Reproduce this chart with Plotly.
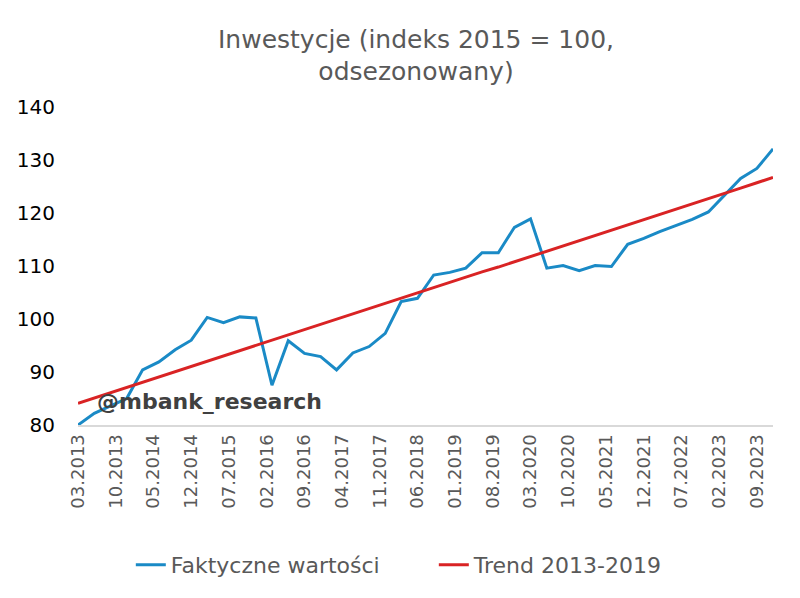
import plotly.graph_objects as go
import pandas as pd

# quarterly dates 03.2013 .. 12.2023
dates = [d.strftime("%Y-%m-%d") for d in pd.date_range("2013-03-01", "2023-12-01", freq="3MS")]

actual = [80.0, 82.2, 83.6, 85.0, 90.4, 91.9, 94.2, 96.0, 100.3, 99.3, 100.4, 100.2,
          87.5, 95.9, 93.5, 92.9, 90.4, 93.6, 94.8, 97.3, 103.3, 103.9, 108.3, 108.8,
          109.6, 112.5, 112.5, 117.3, 118.9, 109.6, 110.1, 109.1, 110.1, 109.9, 114.1, 115.2,
          116.5, 117.7, 118.8, 120.2, 123.4, 126.5, 128.4, 132.1]

trend = [84.1, 85.1, 86.1, 87.1, 88.1, 89.1, 90.0, 91.0, 92.0, 93.0, 94.0, 95.0,
         96.0, 97.0, 98.0, 98.9, 99.9, 100.9, 101.9, 102.9, 103.9, 104.9, 105.9, 106.9,
         107.9, 108.9, 109.8, 110.8, 111.8, 112.8, 113.8, 114.8, 115.8, 116.8, 117.8, 118.8,
         119.7, 120.7, 121.7, 122.7, 123.7, 124.7, 125.7, 126.7]

y_ticks = [80, 90, 100, 110, 120, 130, 140]

FONT = "Verdana, DejaVu Sans, sans-serif"

fig = go.Figure()
fig.add_trace(go.Scatter(x=dates, y=actual, mode="lines", name="Faktyczne wartości",
                         line=dict(color="#1a8ac6", width=3)))
fig.add_trace(go.Scatter(x=dates, y=trend, mode="lines", name="Trend 2013-2019",
                         line=dict(color="#d92324", width=3)))

fig.add_annotation(text="<b>@mbank_research</b>", xref="paper", yref="paper",
                   x=0.024, y=0.075, xanchor="left", yanchor="middle", showarrow=False,
                   font=dict(family=FONT, size=22, color="#404040"))

fig.update_layout(
    width=800, height=598, autosize=False,
    margin=dict(l=78, r=27, t=107, b=173, autoexpand=False),
    paper_bgcolor="white", plot_bgcolor="white",
    title=dict(text="Inwestycje (indeks 2015 = 100,<br>odsezonowany)",
               x=0.52, xanchor="center", y=0.92, yanchor="middle",
               font=dict(family=FONT, size=25, color="#595959")),
    showlegend=True,
    legend=dict(orientation="h", x=0.076, xanchor="left",
                y=-0.44, yanchor="middle",
                entrywidth=258, entrywidthmode="pixels",
                font=dict(family=FONT, size=22, color="#595959"),
                tracegroupgap=0),
    xaxis=dict(type="date", range=[dates[0], dates[-1]],
               tick0="2013-03-01", dtick="M7", tickformat="%m.%Y",
               tickangle=-90, showgrid=False, zeroline=False,
               showline=True, linecolor="#d9d9d9", linewidth=2,
               ticks="",
               tickfont=dict(family=FONT, size=18, color="#595959")),
    yaxis=dict(range=[80, 140], tickvals=y_ticks, showgrid=False, zeroline=False,
               showline=False, ticks="", ticklabelstandoff=22,
               tickfont=dict(family=FONT, size=20, color="#000000")),
)

fig.write_html("out.html")
